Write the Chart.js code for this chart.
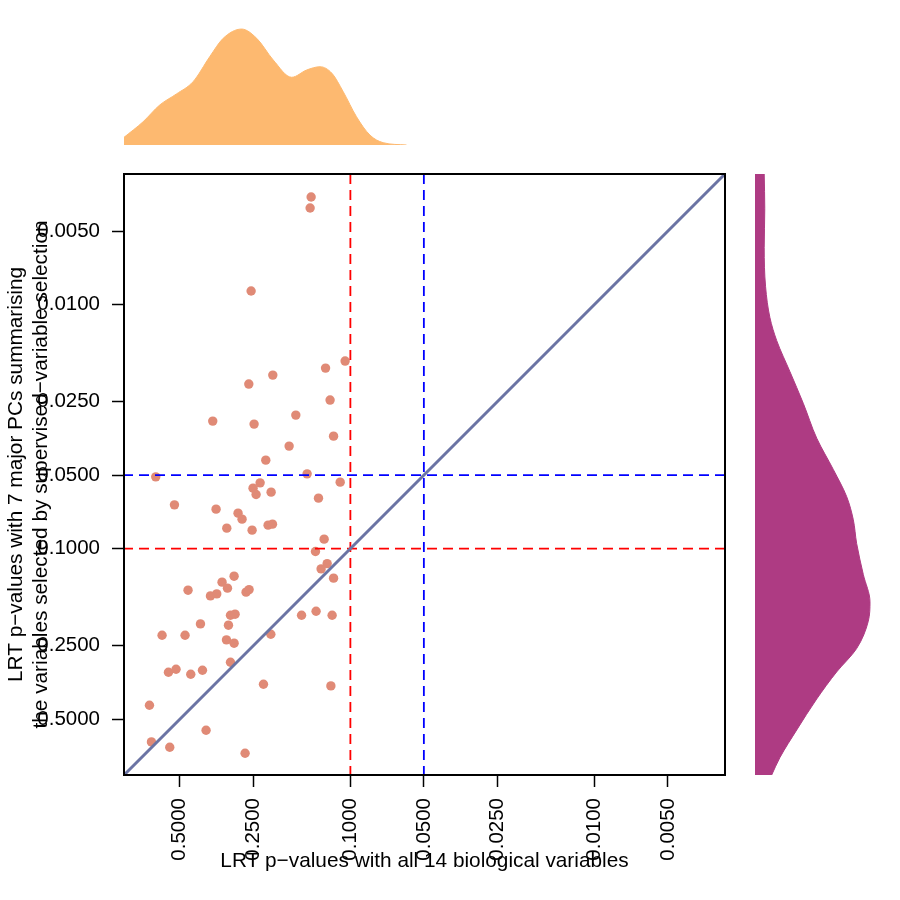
<!DOCTYPE html>
<html>
<head>
<meta charset="utf-8">
<script src="https://cdn.jsdelivr.net/npm/chart.js@4.4.1/dist/chart.umd.min.js"></script>
<style>
  body { margin: 0; background: #fff; }
  #wrap { position: relative; width: 900px; height: 900px; }
  canvas { position: absolute; left: 0; top: 0; }
</style>
</head>
<body>
<div id="wrap">
  <canvas id="topDens" width="900" height="900"></canvas>
  <canvas id="rightDens" width="900" height="900"></canvas>
  <canvas id="main" width="900" height="900"></canvas>
</div>
<script>
// p-values, one per point (x: all 14 variables, y: 7 major PCs)
const pAll14 = [
  0.1448, 0.1462, 0.2551, 0.1051, 0.1264, 0.2079, 0.2607, 0.1211, 0.3663, 0.2480,
  0.1673, 0.1172, 0.1782, 0.2221, 0.6271, 0.1504, 0.1101, 0.2343, 0.2504, 0.2434,
  0.2112, 0.1351, 0.5256, 0.3550, 0.2885, 0.2778, 0.3209, 0.2527, 0.2173, 0.2085,
  0.1281, 0.1390, 0.1245, 0.1318, 0.1172, 0.2995, 0.3355, 0.3188, 0.4624, 0.3743,
  0.3527, 0.2675, 0.2600, 0.3099, 0.2967, 0.1585, 0.1382, 0.1188, 0.4113, 0.3158,
  0.5908, 0.4756, 0.2118, 0.3218, 0.2995, 0.3099, 0.5563, 0.5178, 0.4507, 0.4036,
  0.2270, 0.1202, 0.6654, 0.3901, 0.6531, 0.5495, 0.2700
];
const pPCs7 = [
  0.003628, 0.004024, 0.008808, 0.01705, 0.01822, 0.01946, 0.02118, 0.02463, 0.03004, 0.03090,
  0.02838, 0.03461, 0.03803, 0.04340, 0.05081, 0.04939, 0.05342, 0.05377, 0.05653, 0.06005,
  0.05871, 0.06213, 0.06617, 0.06891, 0.07156, 0.07573, 0.08244, 0.08402, 0.08014, 0.07939,
  0.09147, 0.1028, 0.1152, 0.1211, 0.1321, 0.1297, 0.1372, 0.1452, 0.1480, 0.1562,
  0.1533, 0.1508, 0.1472, 0.1874, 0.1856, 0.1874, 0.1805, 0.1874, 0.2034, 0.2059,
  0.2263, 0.2263, 0.2242, 0.2366, 0.2440, 0.2920, 0.3209, 0.3120, 0.3270, 0.3149,
  0.3594, 0.3651, 0.4381, 0.5547, 0.6194, 0.6512, 0.6892
];
const tickVals = [0.5, 0.25, 0.1, 0.05, 0.025, 0.01, 0.005];
const pMin = 0.00292, pMax = 0.846;
const cutRed = 0.1, cutBlue = 0.05;

// marginal densities (height relative to the peak)
const topDensP = [0.846, 0.707, 0.604, 0.516, 0.441, 0.377, 0.332, 0.279, 0.242, 0.207,
  0.174, 0.151, 0.133, 0.119, 0.107, 0.0944, 0.0832, 0.0734, 0.0589];
const topDensH = [0.066, 0.20, 0.345, 0.44, 0.546, 0.761, 0.92, 1.0, 0.92, 0.733,
  0.584, 0.647, 0.675, 0.618, 0.46, 0.244, 0.086, 0.02, 0];
const rightDensP = [0.00292, 0.00405, 0.00585, 0.00846, 0.01133, 0.01406, 0.01885, 0.0254,
  0.0353, 0.0474, 0.0612, 0.0762, 0.0953, 0.1277, 0.1652, 0.1984, 0.2566, 0.32, 0.4127,
  0.5531, 0.717, 0.846];
const rightDensH = [0.08, 0.085, 0.08, 0.092, 0.130, 0.189, 0.304, 0.420, 0.537, 0.681,
  0.797, 0.855, 0.884, 0.942, 1.0, 0.985, 0.884, 0.710, 0.537, 0.363, 0.217, 0.145];

Chart.defaults.font.family = '"Liberation Sans", Arial, sans-serif';
Chart.defaults.font.size = 20;
Chart.defaults.color = '#000';

const noPlugins = { legend: { display: false }, tooltip: { enabled: false } };

// top margin: density of x
new Chart(document.getElementById('topDens'), {
  type: 'line',
  data: { datasets: [{
    data: topDensP.map((p, i) => ({ x: p, y: topDensH[i] })),
    fill: 'origin', backgroundColor: '#fdb970', borderColor: '#fdb970', borderWidth: 1,
    pointRadius: 0, cubicInterpolationMode: 'monotone'
  }] },
  options: {
    responsive: false, animation: false,
    layout: { padding: { left: 124, right: 175, top: 20, bottom: 755 } },
    scales: {
      x: { type: 'logarithmic', reverse: true, min: pMin, max: pMax, display: false },
      y: { min: 0, max: 1.078, display: false }
    },
    plugins: noPlugins
  }
});

// right margin: density of y
new Chart(document.getElementById('rightDens'), {
  type: 'line',
  data: { datasets: [{
    data: rightDensP.map((p, i) => ({ x: rightDensH[i], y: p })),
    fill: 'origin', backgroundColor: '#ae3b83', borderColor: '#ae3b83', borderWidth: 1,
    pointRadius: 0, cubicInterpolationMode: 'monotone'
  }] },
  options: {
    responsive: false, animation: false, indexAxis: 'y',
    layout: { padding: { left: 755, right: 10, top: 174, bottom: 125 } },
    scales: {
      x: { type: 'linear', min: 0, max: 1.174, display: false },
      y: { type: 'logarithmic', reverse: true, min: pMin, max: pMax, display: false }
    },
    plugins: noPlugins
  }
});

// box round the plot region
const boxPlugin = {
  id: 'box',
  afterDatasetsDraw(chart) {
    const { ctx, chartArea: a } = chart;
    ctx.save();
    ctx.strokeStyle = '#000';
    ctx.lineWidth = 2;
    ctx.strokeRect(a.left, a.top, a.right - a.left, a.bottom - a.top);
    ctx.restore();
  }
};

function refLine(pts, color, dash, width) {
  return { data: pts, showLine: true, borderColor: color, borderWidth: width,
    borderDash: dash, pointRadius: 0, fill: false };
}

const tickGrid = { drawOnChartArea: false, tickLength: 12, tickColor: '#000', tickWidth: 1.5 };
const fixTicks = s => { s.ticks = tickVals.map(v => ({ value: v })); };
const fmt = v => Number(v).toFixed(4);

new Chart(document.getElementById('main'), {
  type: 'scatter',
  data: { datasets: [
    refLine([{ x: pMax, y: pMax }, { x: pMin, y: pMin }], '#6b74a4', [], 3),
    refLine([{ x: cutRed, y: pMin }, { x: cutRed, y: pMax }], '#ff0000', [10, 6], 1.8),
    refLine([{ x: pMin, y: cutRed }, { x: pMax, y: cutRed }], '#ff0000', [10, 6], 1.8),
    refLine([{ x: cutBlue, y: pMin }, { x: cutBlue, y: pMax }], '#0000ff', [10, 6], 1.8),
    refLine([{ x: pMin, y: cutBlue }, { x: pMax, y: cutBlue }], '#0000ff', [10, 6], 1.8),
    {
      data: pAll14.map((p, i) => ({ x: p, y: pPCs7[i] })),
      pointRadius: 4.7, pointBackgroundColor: '#e08a76', pointBorderWidth: 0
    }
  ] },
  options: {
    responsive: false, animation: false,
    layout: { padding: { left: 0, right: 175, top: 174, bottom: 0 } },
    scales: {
      x: {
        type: 'logarithmic', reverse: true, min: pMin, max: pMax, position: 'bottom',
        afterBuildTicks: fixTicks,
        afterFit: s => { s.height = 125; },
        grid: tickGrid, border: { display: false },
        ticks: { autoSkip: false, padding: 11, minRotation: 90, maxRotation: 90, callback: fmt,
          font: { size: 20.5 } },
        title: { display: true, text: 'LRT p\u2212values with all 14 biological variables',
          font: { size: 20.8 }, padding: { top: 0, bottom: 26 } }
      },
      y: {
        type: 'logarithmic', reverse: true, min: pMin, max: pMax, position: 'left',
        afterBuildTicks: fixTicks,
        afterFit: s => { s.width = 124; },
        grid: tickGrid, border: { display: false },
        ticks: { autoSkip: false, padding: 12, callback: fmt, font: { size: 20.5 } },
        title: { display: true,
          text: ['LRT p\u2212values with 7 major PCs summarising',
                 'the variables selected by supervised\u2212variable selection'],
          font: { size: 20.8 }, padding: { top: 4, bottom: 0 } }
      }
    },
    plugins: noPlugins
  },
  plugins: [boxPlugin]
});
</script>
</body>
</html>
